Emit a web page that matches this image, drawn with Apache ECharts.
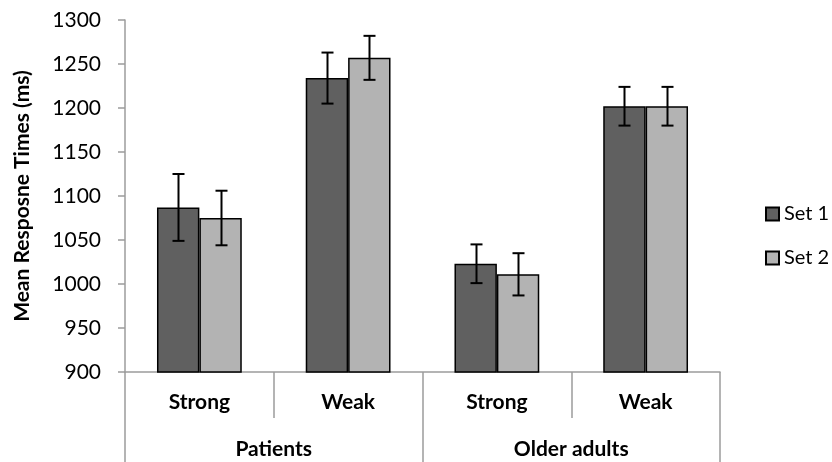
<!DOCTYPE html>
<html>
<head>
<meta charset="utf-8">
<script src="https://cdn.jsdelivr.net/npm/echarts@6/dist/echarts.min.js"></script>
<style>
    html, body { margin: 0; padding: 0; background: #fff; }
    #chart { width: 832px; height: 462px; }
</style>
</head>
<body>
<div id="chart"></div>
<script>
const conditions = ['Strong', 'Weak', 'Strong', 'Weak']
const groups = ['Patients', 'Older adults']
const seriesNames = ['Set 1', 'Set 2']
const set1Values = [1087, 1234, 1023, 1202]
const set2Values = [1075, 1257, 1011, 1202]
const set1Errors = [38, 29, 22, 22]
const set2Errors = [31, 25, 24, 22]

const axisGray = '#9c9c9c'
const fontFamily = 'Lato, "Open Sans", sans-serif'

// error bar for one of the two bars in a category, offset is a share of category width
const errorBar = (offset) => (params, api) => {
    const idx = api.value(0)
    const val = api.value(1)
    const err = api.value(2)
    const catWidth = api.size([1, 0])[0]
    const x = Math.round(api.coord([idx, val])[0] + offset * catWidth) + 0.5
    const top = api.coord([idx, val + err])[1]
    const bottom = api.coord([idx, val - err])[1]
    const cap = 6
    const style = { stroke: '#000', lineWidth: 2 }
    return {
        type: 'group',
        children: [
            { type: 'line', shape: { x1: x, y1: top, x2: x, y2: bottom }, style },
            { type: 'line', shape: { x1: x - cap, y1: top, x2: x + cap, y2: top }, style },
            { type: 'line', shape: { x1: x - cap, y1: bottom, x2: x + cap, y2: bottom }, style }
        ]
    }
}

const chart = echarts.init(document.getElementById('chart'))
chart.setOption({
    animation: false,
    textStyle: { fontFamily },
    grid: { left: 125, right: 112, top: 20, bottom: 90 },
    legend: {
        orient: 'vertical',
        left: 760,
        top: 199,
        itemWidth: 13,
        itemHeight: 13,
        itemGap: 24,
        icon: 'rect',
        data: seriesNames,
        textStyle: { fontSize: 20, color: '#000', fontFamily }
    },
    xAxis: [
        {
            type: 'category',
            data: conditions,
            position: 'bottom',
            axisLine: { lineStyle: { color: axisGray, width: 1.5 } },
            axisTick: { show: true, interval: 0, length: 46, lineStyle: { color: axisGray, width: 1.5 } },
            axisLabel: { interval: 0, margin: 20, fontSize: 21, fontWeight: 'bold', color: '#000' }
        },
        {
            type: 'category',
            data: groups,
            position: 'bottom',
            axisLine: { show: false },
            axisTick: { show: true, interval: 0, length: 90, lineStyle: { color: axisGray, width: 1.5 } },
            axisLabel: { interval: 0, margin: 67, fontSize: 21, fontWeight: 'bold', color: '#000' }
        }
    ],
    yAxis: {
        type: 'value',
        min: 900,
        max: 1300,
        interval: 50,
        name: 'Mean Resposne Times (ms)',
        nameLocation: 'middle',
        nameGap: 92,
        nameTextStyle: { fontSize: 21, fontWeight: 'bold', color: '#000' },
        splitLine: { show: false },
        axisLine: { show: true, lineStyle: { color: axisGray, width: 1.5 } },
        axisTick: { show: true, length: 7, lineStyle: { color: axisGray, width: 1.5 } },
        axisLabel: { margin: 24, fontSize: 21, color: '#000', formatter: (v) => String(v) }
    },
    series: [
        {
            name: seriesNames[0],
            type: 'bar',
            data: set1Values,
            barGap: '0%',
            barCategoryGap: '43%',
            itemStyle: { color: '#606060', borderColor: '#000', borderWidth: 1.5 }
        },
        {
            name: seriesNames[1],
            type: 'bar',
            data: set2Values,
            itemStyle: { color: '#b3b3b3', borderColor: '#000', borderWidth: 1.5 }
        },
        {
            type: 'custom',
            renderItem: errorBar(-0.1425),
            data: set1Values.map((v, i) => [i, v, set1Errors[i]]),
            encode: { x: 0, y: 1 },
            z: 10
        },
        {
            type: 'custom',
            renderItem: errorBar(0.1425),
            data: set2Values.map((v, i) => [i, v, set2Errors[i]]),
            encode: { x: 0, y: 1 },
            z: 10
        }
    ]
})
</script>
</body>
</html>
